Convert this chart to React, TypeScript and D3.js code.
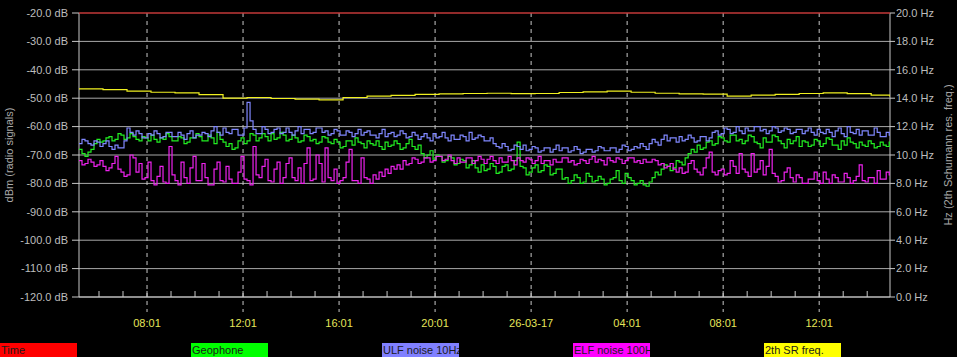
import React from "react";
import * as d3 from "d3";

const W = 957;
const H = 357;

// left axis (dB) and right axis (Hz)
const dbTicks = [-20, -30, -40, -50, -60, -70, -80, -90, -100, -110, -120];
const hzTicks = [20, 18, 16, 14, 12, 10, 8, 6, 4, 2, 0];
const timeLabels = ["08:01", "12:01", "16:01", "20:01", "26-03-17", "04:01", "08:01", "12:01"];

const START = Date.UTC(2017, 2, 25, 5, 11);
const END = Date.UTC(2017, 2, 26, 14, 58);
const HOUR = 3600 * 1000;
const STEP_H = 0.125;

// samples every 7.5 minutes (dBm)
const geophone = [
  -68, -69.5, -70.5, -69, -68, -66, -64.5, -65.5, -65, -64, -63.5, -65, -64.5, -62.5, -63, -64.5, -64, -62.5, -63.5, -64.5,
  -65, -63.5, -64, -65, -63, -64.5, -65.5, -64, -64.5, -62.5, -63.5, -65, -65, -63.5, -64, -66, -65.5, -64, -64, -62.5,
  -63.5, -65, -65, -63, -64, -66, -62, -64.5, -65.5, -67, -66, -68, -67.5, -65, -64, -66, -65, -62.5, -63, -65,
  -64, -62.5, -63.5, -65, -62.5, -64.5, -64, -62, -63, -65, -64.5, -63, -64, -65.5, -65, -63, -63.5, -65, -64.5, -66,
  -65.5, -63.5, -64, -65.5, -66, -64.5, -65.5, -67.5, -67, -65, -65, -66.5, -64, -65.5, -66, -67.5, -65, -66, -66.5, -65,
  -67, -68, -65.5, -67, -66.5, -65, -66, -68, -67.5, -66, -64.5, -67, -68, -66.5, -69.5, -71, -70, -68.5, -71.5, -70,
  -70.5, -72.5, -72, -70.5, -71, -73.5, -73, -71.5, -72, -74.5, -73.5, -72, -74.5, -76, -73.5, -75.5, -75, -73, -74, -76.5,
  -76, -74, -73.5, -75.5, -75, -72, -65.5, -74, -74.5, -77, -76, -74.5, -73.5, -76, -75.5, -73.5, -74, -77, -76.5, -75,
  -75, -78.5, -78, -80, -79, -77, -78, -80, -79.5, -76.5, -77.5, -79.5, -79, -77.5, -78.5, -80.5, -80, -78.5, -78, -75.5,
  -79, -80, -76.5, -78, -79, -80.5, -80, -79, -80.5, -81, -79.5, -78, -76, -77, -75, -73.5, -74, -75.5, -74.5, -72,
  -72.5, -73.5, -71, -69.5, -68, -69, -66.5, -68, -67.5, -65.5, -65, -66.5, -66, -63.5, -64, -65, -65.5, -63, -63, -65,
  -64.5, -66, -65, -63, -63.5, -65.5, -66, -67.5, -64, -65.5, -65.5, -63, -63.5, -65, -66, -67.5, -64.5, -66, -65, -63.5,
  -67, -65, -65.5, -67, -66.5, -64.5, -65, -67, -66, -64, -64.5, -66.5, -66.5, -68, -65, -66.5, -64, -65.5, -66, -67.5,
  -65.5, -66.5, -67, -65, -66, -67.5, -67, -65.5, -66.5, -67, -65.5, -64,
];

const ulfNoise = [
  -66, -64.5, -65, -66, -66.5, -65, -65.5, -67, -66, -65, -67, -68, -66.5, -67.5, -67.5, -65, -60.5, -62, -63, -61.5,
  -62.5, -64, -64, -62.5, -63, -61.5, -62.5, -64, -63.5, -62, -62, -63.5, -63.5, -62, -63, -64.5, -62.5, -61.5, -64, -63,
  -63, -62, -62.5, -63.5, -61.5, -60, -62, -63, -60.5, -62, -62.5, -61, -61, -63, -63, -60.5, -51.5, -58, -61, -62.5,
  -62.5, -60, -61, -62.5, -62, -61, -60.5, -62.5, -62, -60.5, -62, -63, -61.5, -60, -62.5, -61, -61, -62.5, -62, -60.5,
  -60.5, -62, -61.5, -63, -62.5, -61, -61.5, -63, -63, -61.5, -62, -63.5, -62.5, -61, -63, -62, -61.5, -63, -63, -64,
  -62.5, -61, -63.5, -62.5, -62, -63.5, -63, -61.5, -62.5, -64, -63.5, -62, -63, -64.5, -63.5, -62.5, -64, -65, -62.5, -64,
  -63.5, -62, -64, -65, -63, -64.5, -64.5, -63, -63.5, -65, -62, -64.5, -64, -63, -63.5, -65, -65, -64, -66, -67,
  -67.5, -66, -67, -68.5, -68, -66.5, -67, -68, -66.5, -68.5, -68, -67, -67.5, -69, -68.5, -67.5, -67.5, -69, -68, -66.5,
  -68.5, -67.5, -67.5, -69, -68.5, -67, -68, -69.5, -69, -68, -68, -69, -68.5, -67, -67.5, -68.5, -68.5, -67.5, -67.5, -69,
  -68, -66.5, -67, -68.5, -68, -67, -67.5, -66, -67, -68, -66, -64.5, -65.5, -66.5, -64.5, -63, -65, -64, -64, -65.5,
  -63.5, -65, -64.5, -63, -64, -65.5, -65, -63.5, -63.5, -65, -64, -62, -61.5, -63, -62.5, -60.5, -61, -62.5, -62, -60,
  -61.5, -62.5, -60.5, -61.5, -61.5, -60, -60, -61.5, -61, -62.5, -61.5, -60, -60.5, -62, -61.5, -60.5, -61, -62.5, -62, -61,
  -61, -62.5, -61.5, -60.5, -62, -63, -61, -62, -62.5, -61, -62, -63.5, -61.5, -60.5, -62.5, -63.5, -60, -62, -62.5, -61,
  -63, -61.5, -61.5, -63, -63, -60.5, -62, -63.5, -63.5, -62, -63, -63.5,
];

const elfNoise = [
  -72, -73.5, -73, -71.5, -72.5, -74, -73.5, -72, -74, -75.5, -74.5, -73, -70.5, -75, -76, -77.5, -77, -70, -71, -76,
  -73, -78.5, -78, -72.5, -79, -80.5, -77.5, -74, -79.5, -80, -67, -77, -79, -80.5, -72.5, -78, -80, -74.5, -70.5, -79,
  -79, -73, -78, -80.5, -80.5, -75, -72.5, -79, -79.5, -74, -78.5, -80, -80, -76, -70.5, -78.5, -79, -80.5, -67, -77,
  -78, -74, -71.5, -79, -79.5, -75, -72.5, -80, -78, -73, -71, -78, -79, -74.5, -80, -73, -67.5, -79, -78.5, -70,
  -73, -79.5, -67.5, -78, -79, -75, -80, -79, -78, -72.5, -68, -79, -79, -80, -71, -78, -78.5, -80, -77, -78.5,
  -76, -77.5, -75, -76.5, -74, -75, -73.5, -75, -72, -73.5, -73, -71, -71.5, -73, -72.5, -71, -71, -72.5, -72, -70.5,
  -70.5, -72, -71.5, -70, -72, -73, -71, -72.5, -72.5, -71, -71, -73, -72, -70.5, -71.5, -73, -71.5, -70.5, -72, -73,
  -71, -72.5, -72.5, -70.5, -72, -73.5, -71, -72, -72.5, -71, -71.5, -73, -72, -70.5, -73, -72, -72, -73.5, -71.5, -72.5,
  -72.5, -71, -71, -72.5, -72, -73.5, -73, -71.5, -72, -73, -71.5, -70.5, -72.5, -71.5, -72, -73.5, -71, -72, -72.5, -71,
  -71.5, -73, -72, -71, -71, -72.5, -72, -73, -71.5, -72.5, -72.5, -71.5, -72, -73.5, -73, -74.5, -74, -73, -75, -76,
  -74.5, -76.5, -76, -73, -72, -75, -76, -77, -74.5, -71, -69, -76, -77, -75.5, -75, -77, -76.5, -72, -74, -76.5,
  -69.5, -75, -76, -77.5, -69.5, -76, -75, -72, -77, -74, -68, -76.5, -77.5, -79.5, -79, -76, -74.5, -78, -79.5, -77,
  -78, -80, -80, -78.5, -78.5, -76, -79, -80, -76, -78.5, -80, -77, -78, -79.5, -79.5, -76.5, -78, -80, -79, -77.5,
  -73.5, -79, -79.5, -78, -78, -80, -75.5, -78.5, -78.5, -76, -77, -76.5,
];

// 2th SR frequency, hourly (Hz)
const srFreq = [
  14.65, 14.6, 14.5, 14.42, 14.37, 14.25, 14.0, 14.05, 13.98, 13.93, 13.88, 14.05, 14.15, 14.2, 14.27, 14.3, 14.33,
  14.35, 14.32, 14.33, 14.4, 14.45, 14.5, 14.42, 14.35, 14.3, 14.28, 14.15, 14.22, 14.27, 14.33, 14.38, 14.32, 14.22,
  14.1,
];

const legendNames = ["Time", "Geophone", "ULF noise 10Hz", "ELF noise 100H", "2th SR freq."];
const legendColors = ["#ff0000", "#00ff00", "#8080ff", "#ff00ff", "#ffff00"];

const M = { left: 79, right: 890, top: 13, bottom: 297 };
const FONT = "'Liberation Sans', Arial, sans-serif";
const AXIS = "#c8c8c8";
const GRID = "#a8a8a8";

export default function App() {
  const x = d3.scaleUtc().domain([START, END]).range([M.left, M.right]);
  const yDb = d3.scaleLinear().domain([-120, -20]).range([M.bottom, M.top]);
  const yHz = d3.scaleLinear().domain([0, 20]).range([M.bottom, M.top]);

  const t = (i: number, step: number) => START + i * step * HOUR;

  const dbLine = (vals: number[]) =>
    d3
      .line<number>()
      .x((_, i) => x(t(i, STEP_H)))
      .y((v) => yDb(v))
      .curve(d3.curveStepAfter)(vals) || "";

  const hzLine =
    d3
      .line<number>()
      .x((_, i) => Math.min(x(t(i, 1)), M.right))
      .y((v) => yHz(v))
      .curve(d3.curveStepAfter)(srFreq) || "";

  const firstMajor = Date.UTC(2017, 2, 25, 8, 1);
  const majors = timeLabels.map((lab, k) => ({ lab, v: firstMajor + k * 4 * HOUR }));
  const minors = d3.range(-2, 31).map((k) => firstMajor + k * HOUR).filter((v) => v > START && v < END);

  return (
    <svg
      width={W}
      height={H}
      style={{ position: "absolute", left: 0, top: 0, background: "#000" }}
      fontFamily={FONT}
      fontSize={11}
    >
      <rect x={0} y={0} width={W} height={H} fill="#000" />
      <defs>
        <clipPath id="plot">
          <rect x={M.left} y={M.top} width={M.right - M.left} height={M.bottom - M.top} />
        </clipPath>
        {legendNames.map((_, i) => (
          <clipPath id={`lg${i}`} key={i}>
            <rect x={i * 191} y={343} width={77} height={14} />
          </clipPath>
        ))}
      </defs>
      {/* horizontal grid */}
      {dbTicks.map((d) => (
        <g key={d}>
          <line x1={M.left} x2={M.right} y1={yDb(d)} y2={yDb(d)} stroke={GRID} strokeWidth={1} />
          <line x1={M.left - 7} x2={M.left} y1={yDb(d)} y2={yDb(d)} stroke={AXIS} />
          <text x={68} y={yDb(d)} dy="0.35em" textAnchor="end" fill="#bdbdbd">
            {d.toFixed(1)} dB
          </text>
        </g>
      ))}
      {hzTicks.map((h) => (
        <g key={h}>
          <line x1={M.right} x2={M.right + 5} y1={yHz(h)} y2={yHz(h)} stroke={AXIS} />
          <text x={896} y={yHz(h)} dy="0.35em" textAnchor="start" fill="#bdbdbd">
            {h.toFixed(1)} Hz
          </text>
        </g>
      ))}
      {/* vertical dashed grid */}
      {majors.map((m) => (
        <g key={m.v}>
          <line
            x1={x(m.v)}
            x2={x(m.v)}
            y1={M.top}
            y2={312}
            stroke={AXIS}
            strokeDasharray="4,4"
          />
          <text x={x(m.v)} y={323} dy="0.35em" textAnchor="middle" fill="#e6e65a">
            {m.lab}
          </text>
        </g>
      ))}
      {minors.map((v) => (
        <line key={v} x1={x(v)} x2={x(v)} y1={M.bottom - 6} y2={M.bottom} stroke={AXIS} />
      ))}
      {/* axes */}
      <line x1={M.left} x2={M.left} y1={M.top} y2={M.bottom} stroke={AXIS} />
      <line x1={M.right} x2={M.right} y1={M.top} y2={M.bottom} stroke={AXIS} />
      <line x1={M.left} x2={M.right} y1={M.bottom} y2={M.bottom} stroke={AXIS} />
      {/* Time series (top red line) */}
      <line x1={M.left} x2={M.right} y1={yDb(-20)} y2={yDb(-20)} stroke="#d00000" strokeWidth={1} />
      {/* data */}
      <g clipPath="url(#plot)">
        <path d={dbLine(geophone)} fill="none" stroke="#22ee22" strokeWidth={1.2} />
        <path d={dbLine(ulfNoise)} fill="none" stroke="#8088ff" strokeWidth={1.2} />
        <path d={dbLine(elfNoise)} fill="none" stroke="#ee22ee" strokeWidth={1.2} />
        <path d={hzLine} fill="none" stroke="#f0f020" strokeWidth={1.2} />
      </g>
      {/* axis titles */}
      <text transform="translate(13,155) rotate(-90)" textAnchor="middle" fill="#a8a8a8">
        dBm (radio signals)
      </text>
      <text transform="translate(952,155) rotate(-90)" textAnchor="middle" fill="#a8a8a8">
        Hz (2th Schumann res. freq.)
      </text>
      {/* legend */}
      {legendNames.map((n, i) => (
        <g key={n} clipPath={`url(#lg${i})`}>
          <rect x={i * 191} y={343} width={77} height={14} fill={legendColors[i]} />
          <text x={i * 191 + 1} y={354} fill="#1a1a1a">
            {n}
          </text>
        </g>
      ))}
    </svg>
  );
}
